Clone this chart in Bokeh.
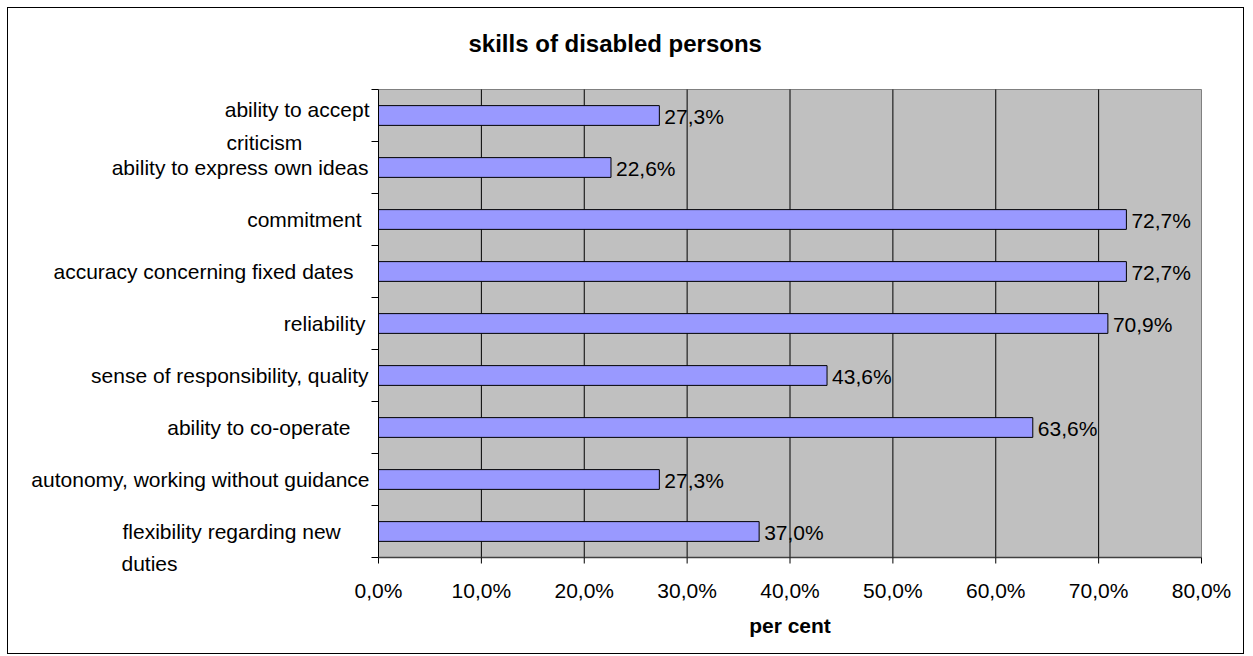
import numpy as np
from bokeh.plotting import figure
from bokeh.models import ColumnDataSource, LabelSet, Label, Range1d
from bokeh.core.properties import value
from bokeh.embed import file_html
from bokeh.resources import INLINE

# ---------------- data ----------------
categories = [
    "ability to accept criticism",
    "ability to express own ideas",
    "commitment",
    "accuracy concerning fixed dates",
    "reliability",
    "sense of responsibility, quality",
    "ability to co-operate",
    "autonomy, working without guidance",
    "flexibility regarding new duties",
]
values = [27.3, 22.6, 72.7, 72.7, 70.9, 43.6, 63.6, 27.3, 37.0]
label_lines = [
    ["ability to accept", "criticism"],
    ["ability to express own ideas"],
    ["commitment"],
    ["accuracy concerning fixed dates"],
    ["reliability"],
    ["sense of responsibility, quality"],
    ["ability to co-operate"],
    ["autonomy, working without guidance"],
    ["flexibility regarding new", "duties"],
]
x_ticks = [0, 10, 20, 30, 40, 50, 60, 70, 80]
x_tick_labels = ["0,0%", "10,0%", "20,0%", "30,0%", "40,0%", "50,0%", "60,0%", "70,0%", "80,0%"]
title_text = "skills of disabled persons"
x_title = "per cent"

# ---------------- styles / layout ----------------
FONT = "Liberation Sans"
FS = "21px"
W, H = 1237, 647          # canvas size
TITLE_PX = 60             # band above the drawing frame reserved for the title
AREA_L, AREA_R = 370, 1193   # plot-area edges on the canvas (x)
AREA_T, AREA_B = 81, 549     # plot-area edges on the canvas (y)
first_align = ["right"] * 8 + ["left"]
first_dx = [-9, -10, -17, -25, -13, -10, -28, -9, -256]
first_dy = [6, 0, 0, 0, 0, 0, 0, 0, 0]
second_dx = [-152, 0, 0, 0, 0, 0, 0, 0, -257]
second_dy = [-26.5, 0, 0, 0, 0, 0, 0, 0, -32]
TICK_LABEL_DY = -33
AXIS_TITLE_DY = -67.5

n = len(categories)
ypos = [n - 1 - i + 0.5 for i in range(n)]
value_text = [f"{v:.1f}".replace(".", ",") + "%" for v in values]
x0, x1 = x_ticks[0], x_ticks[-1]
ux = (x1 - x0) / (AREA_R - AREA_L)
uy = n / (AREA_B - AREA_T)
x_range = Range1d(x0 - AREA_L * ux, x1 + (W - AREA_R) * ux)
y_range = Range1d(0 - (H - AREA_B) * uy, n + (AREA_T - TITLE_PX) * uy)

p = figure(
    width=W, height=H, x_range=x_range, y_range=y_range,
    output_backend="svg", toolbar_location=None,
    x_axis_location=None, y_axis_location=None,
    min_border_left=0, min_border_right=0, min_border_bottom=0, min_border_top=TITLE_PX,
    background_fill_color="white", border_fill_color="white",
)
p.styles = {"border": "1px solid black", "margin-left": "7px", "margin-top": "7px"}
p.outline_line_color = None
p.xgrid.grid_line_color = None
p.ygrid.grid_line_color = None

# title
p.title.text = title_text
p.title.text_font = FONT
p.title.text_font_size = "24px"
p.title.text_font_style = "bold"
p.title.text_color = "black"
p.title.align = "left"
p.title.offset = 460
p.title.standoff = 24

# plot area (grey background, border, grid lines)
p.quad(left=[x0], right=[x1], bottom=[0], top=[n],
       fill_color="#C0C0C0", line_color=None, level="image")
p.segment(x0=[x0, x1], y0=[n, 0], x1=[x1, x1], y1=[n, n], line_color="#808080", line_width=1)
p.segment(x0=x_ticks[1:-1], y0=[0] * (len(x_ticks) - 2), x1=x_ticks[1:-1], y1=[n] * (len(x_ticks) - 2),
          line_color="black", line_width=1)

# bars
src = ColumnDataSource(dict(y=ypos, v=values, txt=value_text))
p.hbar(y="y", left=0, right="v", height=0.38, source=src,
       fill_color="#9999FF", line_color="black", line_width=1)

# value labels
p.add_layout(LabelSet(x="v", y="y", text="txt", source=src, x_offset=5, y_offset=-1,
                      text_font=value(FONT), text_font_size=value(FS),
                      text_baseline=value("middle"), text_align=value("left"),
                      text_color="black"))

# category axis: line and boundary ticks
p.segment(x0=[x0], y0=[0], x1=[x0], y1=[n], line_color="black", line_width=1)
p.ray(x=[x0] * (n + 1), y=list(range(n + 1)), length=7, length_units="screen",
      angle=np.pi, line_color="black", line_width=1)

# category labels
r_txt, r_y, r_dx, r_dy = [], [], [], []
l_txt, l_y, l_dx, l_dy = [], [], [], []
for i, lines in enumerate(label_lines):
    if first_align[i] == "right":
        r_txt.append(lines[0]); r_y.append(ypos[i]); r_dx.append(first_dx[i]); r_dy.append(first_dy[i])
    else:
        l_txt.append(lines[0]); l_y.append(ypos[i]); l_dx.append(first_dx[i]); l_dy.append(first_dy[i])
    if len(lines) > 1:
        l_txt.append(lines[1]); l_y.append(ypos[i]); l_dx.append(second_dx[i]); l_dy.append(second_dy[i])

rsrc = ColumnDataSource(dict(x=[x0] * len(r_txt), y=r_y, t=r_txt, dx=r_dx, dy=r_dy))
lsrc = ColumnDataSource(dict(x=[x0] * len(l_txt), y=l_y, t=l_txt, dx=l_dx, dy=l_dy))
for s, al in ((rsrc, "right"), (lsrc, "left")):
    p.add_layout(LabelSet(x="x", y="y", text="t", source=s, x_offset="dx", y_offset="dy",
                          text_font=value(FONT), text_font_size=value(FS),
                          text_baseline=value("middle"), text_align=value(al),
                          text_color="black"))

# value axis: line, ticks, tick labels, title
p.segment(x0=[x0], y0=[0], x1=[x1], y1=[0], line_color="#404040", line_width=1.5)
p.ray(x=x_ticks, y=[0] * len(x_ticks), length=6, length_units="screen",
      angle=-np.pi / 2, line_color="black", line_width=1)
tsrc = ColumnDataSource(dict(x=x_ticks, y=[0] * len(x_ticks), t=x_tick_labels))
p.add_layout(LabelSet(x="x", y="y", text="t", source=tsrc, y_offset=TICK_LABEL_DY,
                      text_font=value(FONT), text_font_size=value(FS),
                      text_baseline=value("middle"), text_align=value("center"),
                      text_color="black"))
p.add_layout(Label(x=(x0 + x1) / 2, y=0, text=x_title, y_offset=AXIS_TITLE_DY,
                   text_font=FONT, text_font_size=FS, text_font_style="bold",
                   text_baseline="middle", text_align="center", text_color="black"))

open("out.html", "w").write(file_html(p, INLINE))
